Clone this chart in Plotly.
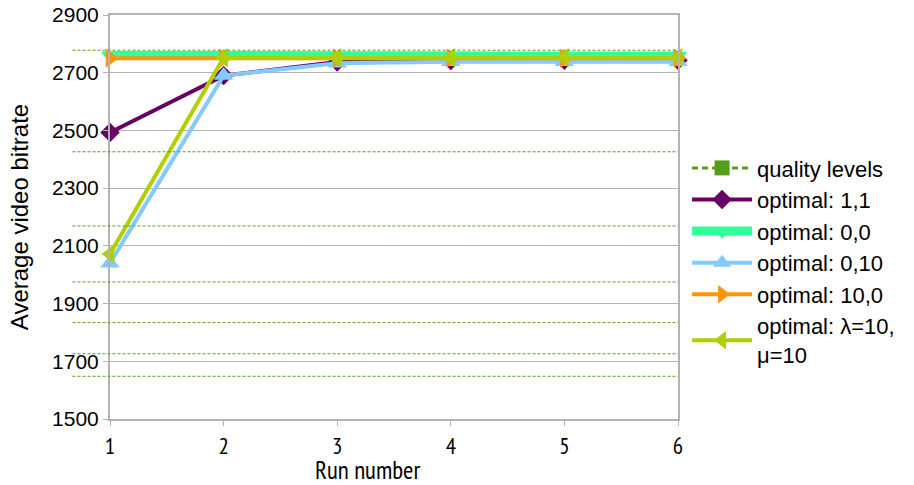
import plotly.graph_objects as go

runs = [1, 2, 3, 4, 5, 6]
quality_levels = [1648, 1726, 1834, 1975, 2169, 2426, 2778]

opt_1_1 = [2493, 2690, 2737, 2742, 2743, 2743]
opt_0_0 = [2760, 2758, 2758, 2758, 2758, 2758]
opt_0_10 = [2040, 2690, 2733, 2738, 2738, 2738]
opt_10_0 = [2750, 2750, 2750, 2750, 2750, 2750]
opt_l10_m10 = [2072, 2752, 2752, 2752, 2752, 2752]

series = [
    ("optimal: 1,1", opt_1_1, "#660066", 4, "diamond", 15),
    ("optimal: 0,0", opt_0_0, "#33ff99", 9, "triangle-down", 16),
    ("optimal: 0,10", opt_0_10, "#83caff", 4, "triangle-up", 17),
    ("optimal: 10,0", opt_10_0, "#ff950e", 4, "triangle-right", 17),
    ("optimal: λ=10,<br>μ=10", opt_l10_m10, "#aecf00", 4, "triangle-left", 17),
]

fig = go.Figure()

fig.add_trace(go.Scatter(
    x=[None], y=[None], name="quality levels", mode="lines+markers",
    line=dict(color="#579d1c", width=3, dash="6px,4px"),
    marker=dict(symbol="square", size=15, color="#579d1c"),
))
for q in quality_levels:
    fig.add_shape(type="line", xref="paper", yref="y", x0=-0.066, x1=1, y0=q, y1=q,
                  line=dict(color="#579d1c", width=1, dash="3px,2px"), layer="above")

for name, vals, color, w, sym, sz in series:
    fig.add_trace(go.Scatter(
        x=runs, y=vals, name=name, mode="lines+markers",
        line=dict(color=color, width=w),
        marker=dict(symbol=sym, size=sz, color=color),
        cliponaxis=False,
    ))

narrow = "PT Sans Narrow, Roboto Condensed, Liberation Sans, sans-serif"

fig.add_annotation(text="Run number", xref="paper", yref="paper", x=0.454, y=-0.126,
                   xanchor="center", yanchor="middle", showarrow=False,
                   font=dict(family=narrow, size=25, color="#000000"))

fig.update_layout(
    width=914, height=485,
    margin=dict(l=110, r=236, t=15, b=66),
    paper_bgcolor="white", plot_bgcolor="white",
    font=dict(family="Liberation Sans, Arial, sans-serif", size=21, color="#000000"),
    showlegend=True,
    legend=dict(x=1.016, y=0.673, xanchor="left", yanchor="top",
                font=dict(size=22), itemwidth=60, tracegroupgap=0,
                bgcolor="rgba(0,0,0,0)"),
    xaxis=dict(range=[1, 6], tickvals=runs, ticktext=[str(r) for r in runs],
               showgrid=False, zeroline=False, showline=True, linecolor="#b3b3b3",
               linewidth=2, mirror=True, ticks="outside", ticklen=5, tickcolor="#b3b3b3",
               automargin=False,
               tickfont=dict(family=narrow, size=23)),
    yaxis=dict(range=[1500, 2900], tickvals=[1500, 1700, 1900, 2100, 2300, 2500, 2700, 2900],
               showgrid=True, gridcolor="#b3b3b3", gridwidth=1, zeroline=False,
               showline=True, linecolor="#b3b3b3", linewidth=2, mirror=True,
               automargin=False,
               ticks="outside", ticklen=5, tickcolor="#b3b3b3", tickfont=dict(size=21),
               title=dict(text="Average video bitrate", font=dict(size=24), standoff=17)),
)

fig.write_html("out.html", config={"displayModeBar": False},
               post_script="document.body.style.margin='0';")
